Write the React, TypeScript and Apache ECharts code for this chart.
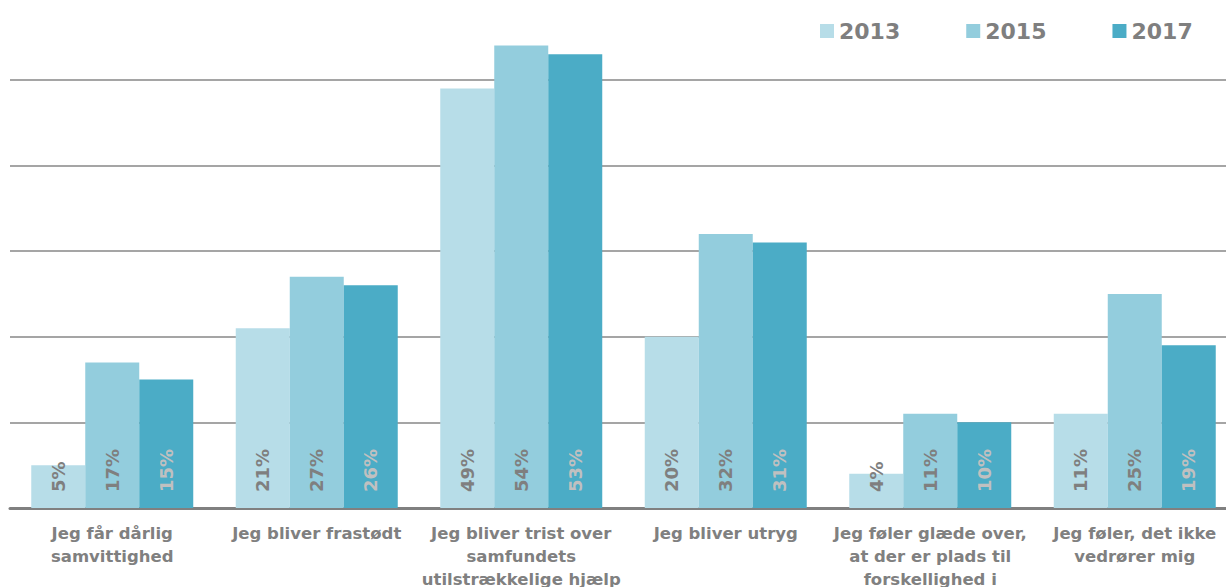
import React, { useEffect, useRef } from "react";
import * as echarts from "echarts";

const categories = [
  "Jeg får dårlig\nsamvittighed",
  "Jeg bliver frastødt",
  "Jeg bliver trist over\nsamfundets\nutilstrækkelige hjælp",
  "Jeg bliver utryg",
  "Jeg føler glæde over,\nat der er plads til\nforskellighed i",
  "Jeg føler, det ikke\nvedrører mig",
];
const seriesNames = ["2013", "2015", "2017"];
const values2013 = [5, 21, 49, 20, 4, 11];
const values2015 = [17, 27, 54, 32, 11, 25];
const values2017 = [15, 26, 53, 31, 10, 19];
const gridTicks = [0, 10, 20, 30, 40, 50];

const colors = ["#b7dde8", "#93cddd", "#4bacc6"];
const labelColors = ["#7f7f7f", "#7f7f7f", "#c0c0c0"];
const FONT = "'DejaVu Sans', Verdana, sans-serif";

export default function App() {
  const ref = useRef<HTMLDivElement>(null);
  useEffect(() => {
    if (!ref.current) return;
    const chart = echarts.init(ref.current, undefined, { renderer: "svg" });
    const data = [values2013, values2015, values2017];
    chart.setOption({
      animation: false,
      backgroundColor: "#ffffff",
      textStyle: { fontFamily: FONT },
      legend: {
        left: 815,
        top: 15,
        itemWidth: 14,
        itemHeight: 14,
        itemGap: 66,
        icon: "rect",
        textStyle: { fontSize: 22, fontWeight: "bold", color: "#7f7f7f", fontFamily: FONT },
        data: seriesNames,
      },
      grid: {
        left: 10,
        width: 1227,
        top: 37,
        bottom: 79,
        containLabel: false,
        outerBoundsMode: "none",
      },
      xAxis: {
        type: "category",
        data: categories,
        axisLine: { show: true, lineStyle: { color: "#808080", width: 3 } },
        axisTick: { show: false },
        axisLabel: {
          interval: 0,
          fontSize: 16.5,
          fontWeight: "bold",
          color: "#808080",
          lineHeight: 23,
          margin: 14,
          fontFamily: FONT,
        },
      },
      yAxis: {
        type: "value",
        min: gridTicks[0],
        max: 55,
        interval: 10,
        axisLabel: { show: false },
        axisLine: { show: false },
        axisTick: { show: false },
        splitLine: { show: true, showMaxLine: false, lineStyle: { color: "#878787", width: 1.5 } },
      },
      series: seriesNames.map((name, i) => ({
        name,
        type: "bar",
        data: data[i],
        barWidth: 54,
        barGap: "0%",
        itemStyle: { color: colors[i] },
        label: {
          show: true,
          position: "insideBottom",
          rotate: 90,
          align: "left",
          verticalAlign: "middle",
          distance: 16,
          formatter: "{c}%",
          fontSize: 18,
          fontWeight: "bold",
          color: labelColors[i],
          fontFamily: FONT,
        },
      })),
    });
    return () => chart.dispose();
  }, []);
  return (
    <div
      ref={ref}
      style={{ position: "fixed", left: 0, top: 0, width: 1226, height: 587 }}
    />
  );
}
